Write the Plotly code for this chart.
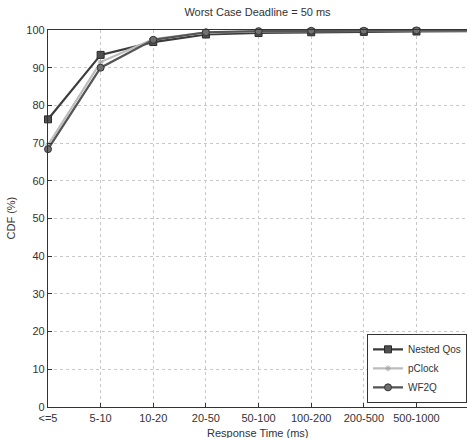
import plotly.graph_objects as go

categories = ["<=5", "5-10", "10-20", "20-50", "50-100", "100-200", "200-500", "500-1000", ">1000"]
nested_qos = [76.3, 93.4, 96.8, 98.8, 99.2, 99.4, 99.5, 99.6, 99.7]
pclock = [69.5, 91.5, 97.6, 99.3, 99.6, 99.7, 99.8, 99.8, 99.9]
wf2q = [68.4, 90.0, 97.4, 99.4, 99.7, 99.8, 99.8, 99.9, 99.9]
y_ticks = [0, 10, 20, 30, 40, 50, 60, 70, 80, 90, 100]

xs = list(range(len(categories)))
font = "Liberation Sans, Arial, sans-serif"

fig = go.Figure()
fig.add_trace(go.Scatter(x=xs, y=nested_qos, name="Nested Qos", mode="lines+markers",
                         line=dict(color="#3c3c3c", width=2.2),
                         marker=dict(symbol="square", size=7, color="#505050",
                                     line=dict(color="#2a2a2a", width=1)),
                         cliponaxis=False))
fig.add_trace(go.Scatter(x=xs, y=pclock, name="pClock", mode="lines+markers",
                         line=dict(color="#bdbdbd", width=2.2),
                         marker=dict(symbol="asterisk", size=5, color="#a8a8a8",
                                     line=dict(color="#a8a8a8", width=1)),
                         cliponaxis=False))
fig.add_trace(go.Scatter(x=xs, y=wf2q, name="WF2Q", mode="lines+markers",
                         line=dict(color="#555555", width=2.2),
                         marker=dict(symbol="circle", size=7, color="#707070",
                                     line=dict(color="#333333", width=1)),
                         cliponaxis=False))

fig.update_layout(
    width=467, height=438,
    margin=dict(l=48, r=0, t=30, b=31, autoexpand=False),
    paper_bgcolor="white", plot_bgcolor="white",
    font=dict(family=font, size=11, color="#333333"),
    title=dict(text="Worst Case Deadline = 50 ms", x=0.5, xref="paper", xanchor="center",
               y=1, yref="container", yanchor="top", pad=dict(t=8),
               font=dict(family=font, size=11, color="#333333")),
    showlegend=True,
    legend=dict(x=1, xanchor="right", y=0.011, yanchor="bottom",
                bgcolor="white", bordercolor="#333333", borderwidth=1,
                font=dict(family=font, size=10, color="#333333"),
                tracegroupgap=0, itemwidth=30),
    annotations=[
        dict(text="Response Time (ms)", x=0.5, xref="paper", y=0, yref="paper",
             xanchor="center", yanchor="top", yshift=-18, showarrow=False,
             font=dict(family=font, size=11, color="#333333")),
        dict(text="CDF (%)", x=0, xref="paper", y=0.5, yref="paper",
             xanchor="right", yanchor="middle", xshift=-30, textangle=-90, showarrow=False,
             font=dict(family=font, size=11, color="#333333")),
    ],
)
fig.update_xaxes(range=[0, 7.96], tickmode="array", tickvals=xs[:-1], ticktext=categories[:-1],
                 automargin=False, ticklabelstandoff=1,
                 showgrid=True, gridcolor="#c8c8c8", griddash="dot", gridwidth=1,
                 showline=True, linecolor="#333333", linewidth=1.2, mirror=True,
                 ticks="inside", ticklen=4, tickcolor="#333333",
                 tickfont=dict(size=11), zeroline=False)
fig.update_yaxes(range=[0, 100], tickmode="array", tickvals=y_ticks,
                 automargin=False,
                 showgrid=True, gridcolor="#c8c8c8", griddash="dot", gridwidth=1,
                 showline=True, linecolor="#333333", linewidth=1.2, mirror=True,
                 ticks="inside", ticklen=4, tickcolor="#333333",
                 tickfont=dict(size=11), zeroline=False)

fig.write_html("out.html", config={"displayModeBar": False},
               post_script="document.body.style.margin='0px';document.body.style.overflow='hidden';")
